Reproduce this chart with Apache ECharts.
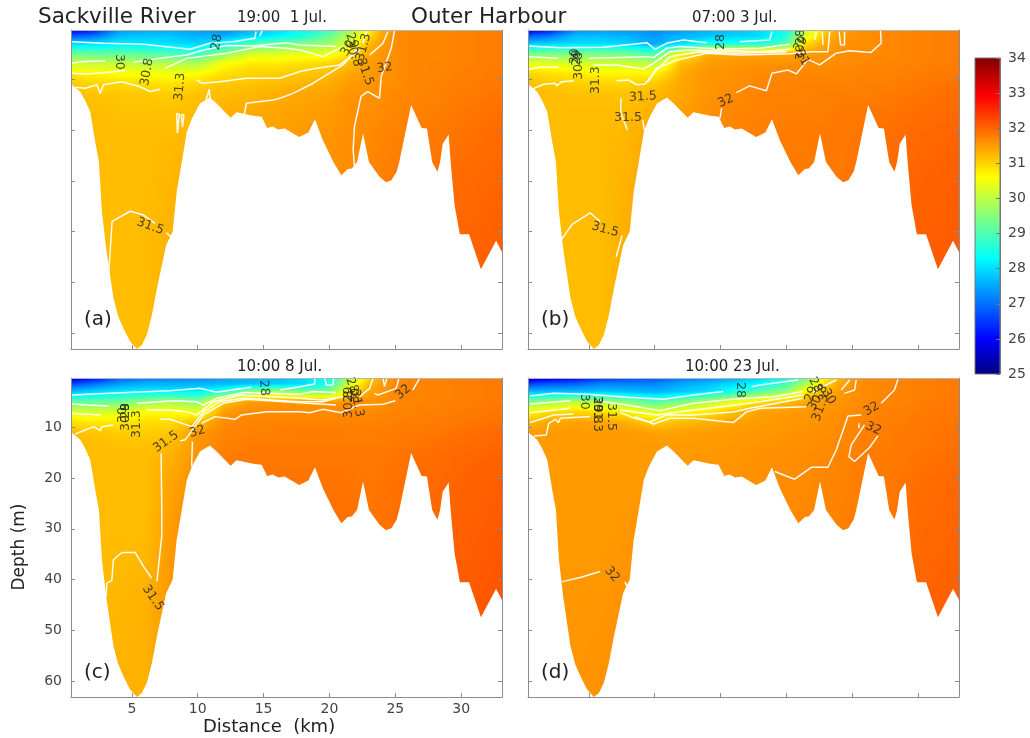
<!DOCTYPE html>
<html>
<head>
<meta charset="utf-8">
<title>Salinity sections</title>
<style>
  html, body { margin: 0; padding: 0; background: #fff; }
  #chart { width: 1030px; height: 738px; }
</style>
<script src="https://cdn.jsdelivr.net/npm/echarts@6/dist/echarts.min.js"></script>
</head>
<body>
<div id="chart"></div>
<script>
// axis ticks
var distanceTicks = [5, 10, 15, 20, 25, 30];
var depthTicks = [10, 20, 30, 40, 50, 60];
var salinityTicks = [25, 26, 27, 28, 29, 30, 31, 32, 33, 34];
var panelLetters = ['(a)', '(b)', '(c)', '(d)'];
var panelDates = ['19:00  1 Jul.', '07:00 3 Jul.', '10:00 8 Jul.', '10:00 23 Jul.'];

// bottom profile, km and metres
var bottomKm = [0.38, 0.53, 1.08, 1.46, 1.84, 2.22, 2.5, 2.73, 3.05, 3.6, 3.97, 4.36, 4.87, 5.38, 5.76, 6.14, 6.52, 6.9, 7.6, 8.1, 8.4, 8.79, 9.17, 9.55, 10.17, 10.93, 11.44, 11.9, 12.5, 12.95, 14.2, 14.85, 15.27, 15.7, 16.1, 16.6, 17.7, 18.4, 18.9, 19.5, 20.3, 20.9, 21.4, 21.7, 22.1, 22.55, 23, 23.8, 24.3, 24.7, 25.1, 25.3, 26.2, 27, 27.4, 27.8, 28.2, 28.4, 28.6, 29.05, 29.2, 29.5, 29.9, 30.6, 31.5, 32.65, 33.1];
var bottomDepth = [10.8, 11.3, 12.5, 14.2, 16.4, 22.3, 26.3, 36.1, 43.3, 53, 56.7, 59, 61.6, 63.1, 62.3, 60.3, 56.4, 51.2, 42.7, 40, 32.2, 26.3, 20.4, 17.8, 14.8, 13.6, 14.8, 16, 17.6, 16.5, 17.2, 17.4, 19.6, 19.3, 19.9, 19.7, 21.4, 20.5, 17.9, 22, 26.3, 28.9, 27.7, 27.6, 26.3, 20.7, 26.3, 29.2, 30.3, 29.9, 28.2, 26.3, 15.1, 19.6, 19.7, 26.3, 28.2, 26.3, 22.7, 20.9, 26.3, 34.8, 40.5, 40.5, 47.4, 41.8, 44];

// salinity read at these stations and depths
var stationKm = [0.3, 2, 4, 6, 8, 10, 12, 14, 16, 18, 20, 21.5, 23, 24, 25, 26, 28, 30, 33.2];
var levelDepth = [0, 1.5, 3, 5, 7, 9, 11, 13, 16, 20, 30, 45, 64];

var salinityA = [
  [25.6, 25.9, 27.3, 27.4, 27.4, 27.4, 27.1, 27.6, 27.9, 28.2, 28.8, 29.6, 30.6, 31.3, 31.62, 31.68, 31.68, 31.72, 31.78],
  [26.8, 27.0, 27.7, 27.8, 27.8, 27.6, 27.6, 27.9, 28.2, 28.6, 29.2, 30.0, 30.9, 31.4, 31.62, 31.68, 31.68, 31.72, 31.78],
  [27.9, 28.0, 28.1, 28.1, 28.0, 27.9, 28.3, 29.0, 29.2, 29.4, 29.7, 30.3, 31.2, 31.5, 31.62, 31.68, 31.68, 31.72, 31.78],
  [29.3, 29.2, 29.2, 29.1, 29.0, 28.9, 29.6, 30.2, 30.3, 30.4, 30.4, 30.8, 31.4, 31.55, 31.62, 31.68, 31.68, 31.72, 31.78],
  [30.2, 30.1, 30.1, 30.0, 30.0, 29.9, 30.6, 30.8, 30.8, 30.9, 31.0, 31.2, 31.5, 31.55, 31.62, 31.68, 31.7, 31.72, 31.78],
  [30.8, 30.7, 30.6, 30.6, 30.5, 30.6, 30.9, 31.0, 31.05, 31.1, 31.2, 31.4, 31.5, 31.58, 31.62, 31.68, 31.7, 31.75, 31.8],
  [31.1, 31.0, 30.95, 30.9, 30.85, 31.0, 31.1, 31.15, 31.2, 31.3, 31.35, 31.5, 31.55, 31.58, 31.62, 31.68, 31.72, 31.75, 31.82],
  [31.2, 31.15, 31.1, 31.1, 31.05, 31.15, 31.2, 31.25, 31.35, 31.4, 31.45, 31.55, 31.6, 31.62, 31.68, 31.7, 31.72, 31.78, 31.85],
  [31.2, 31.2, 31.15, 31.15, 31.15, 31.2, 31.3, 31.35, 31.4, 31.45, 31.5, 31.6, 31.6, 31.65, 31.68, 31.72, 31.75, 31.82, 31.9],
  [31.2, 31.2, 31.2, 31.2, 31.2, 31.25, 31.35, 31.4, 31.45, 31.5, 31.55, 31.6, 31.65, 31.7, 31.72, 31.75, 31.8, 31.85, 31.95],
  [31.2, 31.2, 31.2, 31.2, 31.25, 31.4, 31.4, 31.45, 31.5, 31.55, 31.6, 31.65, 31.7, 31.75, 31.8, 31.82, 31.85, 31.95, 32.0],
  [31.2, 31.2, 31.2, 31.2, 31.3, 31.4, 31.45, 31.5, 31.55, 31.6, 31.65, 31.7, 31.75, 31.8, 31.82, 31.85, 31.9, 32.0, 32.05],
  [31.2, 31.2, 31.2, 31.2, 31.3, 31.4, 31.45, 31.5, 31.55, 31.6, 31.65, 31.7, 31.75, 31.8, 31.82, 31.85, 31.9, 32.0, 32.05]
];
var salinityB = [
  [25.5, 25.9, 27.2, 27.3, 27.3, 27.2, 27.4, 27.5, 27.7, 27.9, 28.4, 30.0, 31.0, 31.4, 31.55, 31.62, 31.68, 31.72, 31.78],
  [26.8, 27.1, 27.7, 27.7, 27.6, 27.4, 27.6, 27.8, 27.9, 28.0, 28.6, 30.3, 31.2, 31.5, 31.55, 31.62, 31.68, 31.72, 31.78],
  [27.8, 27.9, 28.0, 28.0, 27.9, 27.5, 28.0, 28.4, 28.5, 28.5, 29.0, 30.9, 31.4, 31.55, 31.6, 31.62, 31.68, 31.72, 31.78],
  [29.4, 29.4, 29.4, 29.4, 29.3, 29.0, 30.6, 31.3, 31.4, 31.4, 31.4, 31.5, 31.55, 31.6, 31.62, 31.65, 31.68, 31.72, 31.78],
  [30.5, 30.4, 30.3, 30.2, 30.2, 30.0, 31.2, 31.5, 31.55, 31.6, 31.6, 31.62, 31.62, 31.65, 31.65, 31.68, 31.7, 31.72, 31.8],
  [31.0, 30.9, 30.8, 30.7, 30.7, 30.7, 31.35, 31.55, 31.6, 31.65, 31.68, 31.68, 31.68, 31.7, 31.7, 31.72, 31.72, 31.78, 31.82],
  [31.2, 31.1, 31.05, 31.0, 31.0, 31.1, 31.4, 31.55, 31.6, 31.7, 31.7, 31.72, 31.72, 31.72, 31.72, 31.75, 31.75, 31.8, 31.88],
  [31.2, 31.2, 31.15, 31.15, 31.15, 31.25, 31.4, 31.55, 31.65, 31.72, 31.72, 31.72, 31.75, 31.75, 31.75, 31.75, 31.8, 31.85, 31.92],
  [31.2, 31.2, 31.2, 31.2, 31.2, 31.3, 31.45, 31.6, 31.7, 31.72, 31.75, 31.75, 31.75, 31.8, 31.8, 31.82, 31.85, 31.9, 31.95],
  [31.2, 31.2, 31.2, 31.2, 31.25, 31.4, 31.5, 31.6, 31.7, 31.75, 31.78, 31.78, 31.8, 31.8, 31.82, 31.85, 31.9, 31.95, 32.0],
  [31.2, 31.2, 31.2, 31.2, 31.3, 31.45, 31.55, 31.65, 31.7, 31.78, 31.8, 31.8, 31.8, 31.82, 31.85, 31.9, 31.95, 32.0, 32.05],
  [31.2, 31.2, 31.2, 31.2, 31.35, 31.5, 31.6, 31.65, 31.75, 31.8, 31.82, 31.85, 31.85, 31.88, 31.9, 31.95, 32.0, 32.05, 32.1],
  [31.2, 31.2, 31.2, 31.2, 31.35, 31.5, 31.6, 31.65, 31.75, 31.8, 31.82, 31.85, 31.85, 31.88, 31.9, 31.95, 32.0, 32.05, 32.1]
];
var salinityC = [
  [25.4, 25.8, 26.7, 27.0, 27.1, 27.2, 27.4, 27.5, 27.6, 27.9, 28.3, 29.8, 30.9, 31.4, 31.65, 31.7, 31.72, 31.75, 31.8],
  [26.6, 27.0, 27.4, 27.6, 27.6, 27.6, 27.7, 27.8, 27.9, 28.0, 28.6, 30.2, 31.2, 31.5, 31.65, 31.7, 31.72, 31.75, 31.8],
  [27.7, 27.9, 28.1, 28.2, 28.2, 28.2, 28.6, 29.6, 29.8, 29.4, 29.4, 30.8, 31.4, 31.55, 31.65, 31.7, 31.72, 31.75, 31.8],
  [29.2, 29.2, 29.3, 29.6, 29.8, 29.5, 31.1, 31.5, 31.55, 31.55, 31.55, 31.55, 31.6, 31.6, 31.65, 31.7, 31.72, 31.75, 31.8],
  [30.3, 30.2, 30.3, 30.6, 30.6, 30.4, 31.5, 31.65, 31.65, 31.65, 31.65, 31.65, 31.65, 31.68, 31.72, 31.72, 31.75, 31.78, 31.85],
  [30.9, 30.8, 30.8, 30.9, 30.9, 31.2, 31.65, 31.7, 31.72, 31.72, 31.72, 31.72, 31.72, 31.72, 31.75, 31.75, 31.78, 31.82, 31.9],
  [31.2, 31.1, 31.05, 31.05, 31.1, 31.5, 31.7, 31.72, 31.75, 31.78, 31.78, 31.75, 31.75, 31.78, 31.78, 31.78, 31.82, 31.88, 31.95],
  [31.2, 31.2, 31.15, 31.15, 31.2, 31.55, 31.72, 31.78, 31.78, 31.78, 31.78, 31.78, 31.78, 31.78, 31.8, 31.82, 31.88, 31.92, 31.98],
  [31.2, 31.2, 31.2, 31.2, 31.3, 31.6, 31.78, 31.8, 31.82, 31.82, 31.82, 31.82, 31.8, 31.82, 31.85, 31.88, 31.92, 31.98, 32.02],
  [31.2, 31.2, 31.2, 31.2, 31.4, 31.65, 31.8, 31.82, 31.85, 31.85, 31.85, 31.85, 31.82, 31.85, 31.88, 31.9, 31.95, 32.0, 32.05],
  [31.2, 31.2, 31.2, 31.2, 31.5, 31.7, 31.82, 31.85, 31.88, 31.9, 31.9, 31.9, 31.85, 31.88, 31.9, 31.92, 31.98, 32.03, 32.1],
  [31.25, 31.25, 31.25, 31.3, 31.55, 31.75, 31.85, 31.88, 31.9, 31.92, 31.92, 31.9, 31.85, 31.9, 31.9, 31.95, 32.0, 32.08, 32.15],
  [31.3, 31.3, 31.3, 31.3, 31.55, 31.75, 31.85, 31.88, 31.9, 31.92, 31.92, 31.9, 31.85, 31.9, 31.9, 31.95, 32.0, 32.08, 32.15]
];
var salinityD = [
  [25.2, 25.5, 25.8, 26.3, 26.5, 26.7, 27.0, 27.1, 27.4, 27.8, 28.2, 29.2, 30.6, 31.2, 31.5, 31.65, 31.7, 31.75, 31.8],
  [26.6, 26.8, 26.9, 27.2, 27.2, 27.2, 27.5, 27.7, 28.0, 28.3, 28.9, 29.9, 31.0, 31.4, 31.55, 31.65, 31.7, 31.75, 31.8],
  [27.7, 27.7, 27.7, 27.8, 27.7, 27.6, 27.8, 28.0, 28.5, 29.1, 29.6, 30.7, 31.3, 31.5, 31.6, 31.65, 31.7, 31.75, 31.8],
  [29.4, 29.7, 30.0, 29.9, 29.5, 29.0, 29.4, 29.9, 30.4, 30.9, 31.2, 31.4, 31.5, 31.55, 31.6, 31.65, 31.7, 31.75, 31.82],
  [30.6, 30.9, 31.0, 30.9, 30.7, 30.3, 30.6, 30.8, 31.2, 31.45, 31.5, 31.55, 31.55, 31.6, 31.65, 31.7, 31.75, 31.78, 31.85],
  [31.2, 31.4, 31.45, 31.4, 31.3, 31.0, 31.2, 31.3, 31.45, 31.5, 31.55, 31.55, 31.6, 31.65, 31.7, 31.7, 31.75, 31.8, 31.85],
  [31.5, 31.5, 31.5, 31.5, 31.5, 31.45, 31.45, 31.5, 31.5, 31.55, 31.55, 31.6, 31.6, 31.65, 31.7, 31.75, 31.78, 31.82, 31.88],
  [31.5, 31.5, 31.5, 31.5, 31.5, 31.5, 31.5, 31.5, 31.55, 31.55, 31.6, 31.6, 31.65, 31.7, 31.7, 31.75, 31.78, 31.82, 31.88],
  [31.5, 31.5, 31.5, 31.5, 31.5, 31.5, 31.5, 31.55, 31.55, 31.6, 31.6, 31.65, 31.65, 31.7, 31.75, 31.78, 31.8, 31.85, 31.92],
  [31.5, 31.5, 31.5, 31.5, 31.5, 31.5, 31.55, 31.55, 31.6, 31.6, 31.65, 31.65, 31.7, 31.7, 31.75, 31.78, 31.8, 31.9, 31.97],
  [31.5, 31.5, 31.5, 31.5, 31.55, 31.6, 31.6, 31.6, 31.6, 31.65, 31.65, 31.7, 31.7, 31.75, 31.78, 31.8, 31.85, 31.95, 32.0],
  [31.5, 31.55, 31.55, 31.55, 31.6, 31.6, 31.6, 31.65, 31.65, 31.7, 31.7, 31.75, 31.75, 31.78, 31.8, 31.85, 31.9, 32.0, 32.05],
  [31.55, 31.55, 31.55, 31.6, 31.6, 31.6, 31.6, 31.65, 31.65, 31.7, 31.7, 31.75, 31.75, 31.78, 31.8, 31.85, 31.9, 32.0, 32.05]
];

// white contour lines, [km, m]
var contoursA = [
  [[0.45,2.63],[2.85,2.95],[5.88,3.15],[9.42,4.13],[10.93,2.95],[12.7,2.63],[14.34,1.97],[14.42,0.66]],
  [[14.72,1.5],[14.9,0.46]],
  [[0.45,6.88],[1.34,6.55],[2.98,6.42]],
  [[5.13,6.69],[7.15,5.9],[9.17,5.25],[10.43,4.26],[12.2,3.4],[14.2,3.48],[16.74,2.82],[17.75,3.28],[20.5,3.6]],
  [[7.53,7.86],[9.17,5.9],[10.18,5.57],[12.2,4.92],[14.72,3.6],[16.74,3.94],[17.75,4.26],[19.5,5.57],[21.03,3.6]],
  [[0.45,8.85],[1.59,8.98],[2.85,8.72],[4.49,8.32]],
  [[0.71,11.6],[1.46,11.8],[2.35,11.1],[2.6,12.8],[2.85,11.1],[4.24,10.5],[5.63,11.5],[6.39,12.45],[7.15,12]],
  [[9.92,10.16],[10.3,10.8],[11.69,10.5],[13.7,9.83],[16.23,9.83],[17.75,8.5],[19,7.87],[20.78,7.2],[22.3,4.26]],
  [[13.53,17],[13.7,14.74],[15.73,14.1],[16.23,13.76],[17.24,12.8],[18.76,10.8],[21.03,7.2],[22.3,3.6]],
  [[22.8,0.66],[22.54,2.95]],
  [[24.44,0.66],[24.06,2.95],[23.05,5.25]],
  [[24.94,0.46],[24.69,3.94],[23.93,9.5],[23.8,13.76],[22.9,12.45],[22.4,13.4],[21.9,19.3],[21.8,23.9],[21.9,27.2]],
  [[8.4,16.7],[8.46,20.6],[8.6,17],[8.4,16.7]],
  [[8.75,17],[8.85,19.4],[8.95,17],[8.75,17]],
  [[10.63,14.1],[10.88,12],[10.93,13.8]],
  [[3.2,50],[3.5,38],[4.87,36],[5.86,36.7],[6.76,38.4]],
  [[7.6,40.2],[8.05,41.2]]
];
var contoursB = [
  [[0.43,3.47],[2.83,3.8],[6.11,3.73],[9.4,2.82],[10.03,4.13],[10.9,2.95],[12.17,2.3],[13.94,2.82]],
  [[16.47,2.62],[18.73,2.3],[18.9,0.66]],
  [[0.43,5.57],[2.7,5.9]],
  [[4.98,5.9],[9.4,5.57],[9.9,5.76],[10.9,3.93],[11.9,3.6],[14.95,4.06],[18,3.93],[20.25,3.15]],
  [[0.43,8.06],[1.3,7.66],[2.7,7.66]],
  [[5.36,7.2],[7.12,7.2],[9.14,8],[9.9,6.88],[11.16,4.6],[12.43,4.26],[18,4.6],[20.25,4.13]],
  [[0.68,12],[1.57,11],[2.45,10.8],[2.58,11.3],[2.96,10.5],[3.84,10.3]],
  [[7.12,10.3],[8,10.15],[8.64,11.1],[9.27,10.94],[9.9,8.84],[11.16,5.57],[13.44,4.6],[16.2,4.9],[20,4.6]],
  [[9.52,10.5],[10.15,7.86],[11.67,6.22],[13.94,4.9],[16.47,5.24],[20.25,5],[21.9,4.6],[23.15,4.6],[23.28,0.66]],
  [[22.27,0.66],[22.14,2.3]],
  [[22.72,0.66],[22.77,3.28]],
  [[24,0.66],[24.11,3.28],[24.41,3.28],[24.41,0.66]],
  [[14.95,17.7],[15.08,15.7]],
  [[16.2,12.64],[17.2,11.33],[18.48,12.3],[18.9,8.84],[20.12,8.2],[20.75,8.97],[21.64,6.1],[22.52,7.2],[23.78,4.9],[24.79,4.4],[26.4,4.78],[27.19,2.95],[27.14,0.46]],
  [[7.43,13.75],[7.43,16.7],[7.93,20]],
  [[9.1,18],[9.2,20]],
  [[2.6,50.4],[2.9,41.6],[3.73,38.6],[5.1,36.3],[5.85,38]],
  [[7.52,40.8],[7.07,45]]
];
var contoursC = [
  [[0.45,3.68],[3.36,3.35],[7.9,2.82],[10.18,2.37],[11.44,3.15],[12.95,2.56],[14.09,2.17]],
  [[16.24,2.7],[17.75,2.04],[18.88,1.5],[18.88,0.4]],
  [[19.64,0.4],[19.77,1.7],[20.27,1.7],[20.32,0.4]],
  [[0.45,5.44],[1.59,5.64],[3.23,5.84]],
  [[5.38,5.3],[8.16,4.8],[9.92,5],[10.43,5.64],[11.44,4.33],[13.46,3.2],[17.75,3.55],[18.75,3],[20.5,3.2]],
  [[0.45,7.28],[2.6,7.6]],
  [[6.13,6.62],[7.9,6.62],[9.17,6.95],[9.92,7.6],[11.19,5],[13.2,3.68],[17.75,4.33],[19.5,4.66],[21,4]],
  [[0.71,11.34],[2.1,9.9],[2.6,10.7],[2.73,9.9],[3.6,9.57]],
  [[7.15,8.46],[7.9,8.46],[9.55,9.9],[10.43,7],[11.69,5],[13.46,4.33],[17.75,5],[19.5,5],[20.5,4.33]],
  [[8.66,12.7],[9.04,12.5],[10.43,7.6],[11.94,5.3],[13.7,4.53],[17.75,5.18],[20.5,5.64]],
  [[9.54,17.76],[9.6,12.84]],
  [[10.3,9.24],[11.31,7.93],[12.83,8.46],[13.33,7.6],[15.23,6.95],[17.75,6.95],[18.5,7.15],[19.5,6.5],[20.9,7.15],[22.29,5.64],[24.06,5.5],[25,4.8]],
  [[26.33,2.7],[26.84,0.4]],
  [[7.22,15.14],[7.27,26.27],[7.27,31.5],[6.9,40.35]],
  [[3.05,43.3],[3.1,40.7],[3.48,40.2],[3.6,36.1],[4.24,34.66],[5.25,34.66],[5.88,37.4],[6.5,39.7]],
  [[23.43,3.35],[23.68,3.68],[25.07,2.37],[25.27,0.4]],
  [[24.06,0.4],[24.18,2],[24.36,0.4]],
  [[23.3,0.4],[23.05,2.37],[22.29,4]]
];
var contoursD = [
  [[0.56,3.87],[2.33,3.35],[4.85,3.55],[7.88,4.13],[10.66,4.53],[12.93,3.68],[15.2,3]],
  [[17.35,2.04],[17.98,1.7],[20.88,0.73]],
  [[0.56,5.44],[3.59,4.79]],
  [[5.6,4.79],[7.88,5.64],[10.4,6.75],[12.93,5.3],[15.96,4.53],[18.99,4],[21.26,3]],
  [[0.56,7.15],[3.59,6.3]],
  [[7.38,6.62],[10.15,7.6],[12.93,6.62],[16.2,5.64],[18,5],[21.26,3.68]],
  [[0.56,9.1],[1.57,8.26],[2.33,7.6],[3.84,7.4]],
  [[7.38,7.15],[8.5,8.26],[9.65,9],[10.9,7.6],[12.93,7.6],[15.96,7],[17.22,6.3],[21.26,4.33]],
  [[0.81,11.73],[1.77,11.53],[1.95,9.24],[2.45,8.46],[2.7,9.1],[2.83,8.26],[5.1,7.93]],
  [[8.5,7.93],[9.9,9.37],[11.16,8.26],[12.93,8.26],[15.96,9.1],[16.97,7],[18,6.3],[21.5,5.97]],
  [[23.78,0.73],[23,1.7],[22,3.2]],
  [[24.8,0.73],[24.16,2.7]],
  [[25.3,0.73],[25.17,2.7],[24.4,3.35]],
  [[19.11,18.74],[20.63,20.24],[21.89,17.9],[23.15,17.9],[23.78,14.5],[24.67,7.8],[25.68,7.6]],
  [[27.19,5.3],[28.2,2.7],[28.46,0.6]],
  [[25.93,9.57],[24.92,13.5],[24.74,15.8],[25.17,16.77],[26.31,14],[26.94,11.73]],
  [[25.5,9.24],[25.5,10.2]],
  [[2.98,40.4],[4.34,39.6],[5.86,38.4]],
  [[7.75,40.4],[7.98,42]]
];

// contour labels: km, m, text, rotation
var labelsA = [
  [11.46,2.7,'28',80],[4.04,6.6,'30',-90],[6.16,8.6,'30.8',80],[8.66,11.5,'31.3',85],[6.39,39,'31.5',-20],
  [24.2,7.8,'32',8],[21.7,2.4,'29',-70],[21.4,3.9,'30',60],[21.8,4.9,'30.8',-70],[22.6,3.7,'31.3',75],[22.7,8.6,'31.5',-70]
];
var labelsB = [
  [15.03,2.7,'28',90],[3.96,5.5,'30',90],[4.1,5.8,'29',90],[4.2,7.4,'30.8',90],[5.55,10.2,'31.3',90],
  [9.1,13.5,'31.5',3],[7.97,17.6,'31.5',0],[15.4,14.3,'32',25],[6.24,39.6,'31.5',-15],
  [21.1,1.7,'28',90],[21.1,3.1,'29',60],[21.1,4.7,'30',90],[21.2,5.8,'31',-60]
];
var labelsC = [
  [15.03,2.3,'28',-85],[4.34,7.6,'30',90],[4.5,6.8,'29',90],[4.5,8,'30.8',90],[5.4,9.4,'31.3',90],
  [7.6,12.9,'31.5',35],[9.97,10.9,'32',15],[25.6,3.1,'32',40],[6.6,43.6,'31.5',-55],
  [21.7,1.8,'28',-70],[21.5,3.6,'29',90],[22,3.8,'30',90],[21.5,5.5,'30.8',90],[22.1,5.3,'31.3',-80]
];
var labelsD = [
  [16.5,2.7,'28',-90],[4.65,5,'30',-90],[5.6,5.6,'29',-90],[5.6,6.6,'30.8',-90],[5.65,8.2,'31.3',-90],[6.7,8,'31.5',-90],
  [26.47,6.4,'32',30],[26.6,10.3,'32',-25],[6.76,39,'32',-50],
  [22.2,1.7,'28',-60],[21.9,3.5,'29',70],[22.4,4.2,'30.8',60],[23.2,4,'30',-60],[22.6,6.2,'31.3',70]
];

// colour scale, value then colour
var scaleValues = [25, 26, 28.3, 29.45, 30.6, 32.9, 34];
var scaleColors = ['#00007f', '#0000ff', '#00ffff', '#80ff80', '#ffff00', '#ff0000', '#7f0000'];

function salColor(v) {
  if (v <= scaleValues[0]) return scaleColors[0];
  for (var i = 1; i < scaleValues.length; i++) {
    if (v <= scaleValues[i]) {
      var t = (v - scaleValues[i - 1]) / (scaleValues[i] - scaleValues[i - 1]);
      return echarts.color.lerp(t, [scaleColors[i - 1], scaleColors[i]]);
    }
  }
  return scaleColors[scaleColors.length - 1];
}

function findSlot(list, v) {
  for (var i = 0; i < list.length - 2; i++) {
    if (v < list[i + 1]) return i;
  }
  return list.length - 2;
}

// value at a station pair and depth, used to shade the field between read points
function fieldAt(table, km, depth) {
  var c = findSlot(stationKm, km);
  var r = findSlot(levelDepth, depth);
  var tx = (km - stationKm[c]) / (stationKm[c + 1] - stationKm[c]);
  var ty = (depth - levelDepth[r]) / (levelDepth[r + 1] - levelDepth[r]);
  var top = table[r][c] * (1 - tx) + table[r][c + 1] * tx;
  var low = table[r + 1][c] * (1 - tx) + table[r + 1][c + 1] * tx;
  return top * (1 - ty) + low * ty;
}

var kmMin = 0.38, kmMax = 33.1, depthMin = 0.33, depthMax = 63.1;

function fieldStops(table, km) {
  var stops = [];
  var n = 90;
  for (var i = 0; i <= n; i++) {
    // more stops near the surface where the colour changes quickly
    var f = i / n;
    var d = depthMin + (depthMax - depthMin) * f * f;
    stops.push({
      offset: (d - depthMin) / (depthMax - depthMin),
      color: salColor(fieldAt(table, km, d))
    });
  }
  return stops;
}

function fieldSeries(table, idx) {
  var cols = [];
  for (var i = 0; i < stationKm.length - 1; i++) {
    cols.push([Math.max(stationKm[i], kmMin), Math.min(stationKm[i + 1], kmMax)]);
  }
  return {
    type: 'custom',
    silent: true,
    xAxisIndex: idx * 2,
    yAxisIndex: idx * 2,
    z: 2,
    clip: true,
    encode: { x: [0, 1] },
    data: cols,
    renderItem: function (params, api) {
      var a = api.value(0), b = api.value(1);
      var x0 = Math.round(api.coord([a, depthMin])[0]);
      var x1 = Math.round(api.coord([b, depthMin])[0]);
      var yTop = api.coord([a, depthMin])[1];
      var yLow = api.coord([a, depthMax])[1];
      var kids = [];
      var step = 3;
      for (var x = x0; x < x1; x += step) {
        var f = (x + step / 2 - x0) / (x1 - x0);
        kids.push({
          type: 'rect',
          shape: { x: x, y: yTop, width: step + 0.6, height: yLow - yTop },
          style: { fill: new echarts.graphic.LinearGradient(0, 0, 0, 1, fieldStops(table, a + (b - a) * f)) }
        });
      }
      return { type: 'group', children: kids };
    }
  };
}

function landSeries(idx) {
  return {
    type: 'custom',
    silent: true,
    xAxisIndex: idx * 2,
    yAxisIndex: idx * 2,
    z: 3,
    clip: true,
    data: [[kmMin, depthMax]],
    renderItem: function (params, api) {
      var pts = [];
      for (var i = 0; i < bottomKm.length; i++) {
        pts.push(api.coord([bottomKm[i], bottomDepth[i]]));
      }
      pts.push(api.coord([kmMax, depthMax]));
      pts.push(api.coord([kmMin, depthMax]));
      return { type: 'polygon', shape: { points: pts }, style: { fill: '#fff' } };
    }
  };
}

var fontName = 'DejaVu Sans';
var axisGray = '#8c8c8c';
var grids = [
  { left: 71, top: 30, width: 431, height: 319, outerBoundsMode: 'none' },
  { left: 528, top: 30, width: 431, height: 319, outerBoundsMode: 'none' },
  { left: 71, top: 378, width: 431, height: 319, outerBoundsMode: 'none' },
  { left: 528, top: 378, width: 431, height: 319, outerBoundsMode: 'none' },
  { left: 975, top: 58, width: 25, height: 316, outerBoundsMode: 'none' }
];
var xAxes = [], yAxes = [], series = [];
var tables = [salinityA, salinityB, salinityC, salinityD];
var contours = [contoursA, contoursB, contoursC, contoursD];
var labels = [labelsA, labelsB, labelsC, labelsD];

for (var p = 0; p < 4; p++) {
  var isC = p === 2;
  xAxes.push({
    type: 'value', gridIndex: p, min: kmMin, max: kmMax, position: 'bottom', z: 6,
    splitLine: { show: false },
    axisLine: { onZero: false, lineStyle: { color: axisGray, width: 1 } },
    axisTick: { inside: true, length: 4, customValues: distanceTicks, lineStyle: { color: axisGray } },
    axisLabel: { show: isC, customValues: distanceTicks, margin: 5, fontFamily: fontName, fontSize: 14, color: '#444' }
  });
  xAxes.push({
    type: 'value', gridIndex: p, min: kmMin, max: kmMax, position: 'top', z: 6,
    splitLine: { show: false },
    axisLine: { onZero: false, lineStyle: { color: '#b5b5b5', width: 1 } },
    axisTick: { show: false }, axisLabel: { show: false }
  });
  yAxes.push({
    type: 'value', gridIndex: p, min: depthMin, max: depthMax, inverse: true, position: 'left', z: 6,
    splitLine: { show: false },
    axisLine: { onZero: false, lineStyle: { color: axisGray, width: 1 } },
    axisTick: { inside: true, length: 4, customValues: depthTicks, lineStyle: { color: axisGray } },
    axisLabel: { show: isC, customValues: depthTicks, margin: 9, fontFamily: fontName, fontSize: 14, color: '#444' }
  });
  yAxes.push({
    type: 'value', gridIndex: p, min: depthMin, max: depthMax, inverse: true, position: 'right', z: 6,
    splitLine: { show: false },
    axisLine: { onZero: false, lineStyle: { color: axisGray, width: 1 } },
    axisTick: { inside: true, length: 4, customValues: depthTicks, lineStyle: { color: axisGray } },
    axisLabel: { show: false }
  });

  series.push(fieldSeries(tables[p], p));
  series.push(landSeries(p));

  contours[p].forEach(function (line) {
    series.push({
      type: 'line',
      silent: true,
      xAxisIndex: p * 2,
      yAxisIndex: p * 2,
      z: 4,
      showSymbol: false,
      clip: true,
      lineStyle: { color: '#fff', width: 1.5, opacity: 0.95 },
      data: line
    });
  });

  series.push({
    type: 'scatter',
    silent: true,
    xAxisIndex: p * 2,
    yAxisIndex: p * 2,
    z: 5,
    symbolSize: 0,
    data: labels[p].map(function (l) {
      return {
        value: [l[0], l[1]],
        label: {
          show: true, position: 'inside', formatter: l[2], rotate: l[3],
          fontFamily: fontName, fontSize: 12.5, color: '#222'
        }
      };
    })
  });
}

// colour bar
xAxes.push({ type: 'value', gridIndex: 4, min: 0, max: 1, z: 6, splitLine: { show: false },
  axisLine: { show: false }, axisTick: { show: false }, axisLabel: { show: false } });
yAxes.push({
  type: 'value', gridIndex: 4, min: 25, max: 34, interval: 1, position: 'right', z: 6,
  splitLine: { show: false },
  axisLine: { onZero: false, lineStyle: { color: '#777', width: 1 } },
  axisTick: { inside: true, length: 4, lineStyle: { color: '#777' } },
  axisLabel: { margin: 8, fontFamily: fontName, fontSize: 14, color: '#444', customValues: salinityTicks }
});
series.push({
  type: 'custom',
  silent: true,
  xAxisIndex: 8,
  yAxisIndex: 8,
  z: 2,
  data: [[0, 25, 1, 34]],
  encode: { x: [0, 2], y: [1, 3] },
  renderItem: function (params, api) {
    var low = api.coord([api.value(0), api.value(1)]);
    var top = api.coord([api.value(2), api.value(3)]);
    var stops = scaleValues.map(function (v, i) {
      return { offset: (34 - v) / 9, color: scaleColors[i] };
    }).reverse();
    return {
      type: 'rect',
      shape: { x: low[0], y: top[1], width: top[0] - low[0], height: low[1] - top[1] },
      style: {
        fill: new echarts.graphic.LinearGradient(0, 0, 0, 1, stops),
        stroke: '#777', lineWidth: 1
      }
    };
  }
});

function bigText(text, left, top, size, color) {
  return { text: text, left: left, top: top, padding: 0,
    textStyle: { fontFamily: fontName, fontSize: size, fontWeight: 'normal', color: color } };
}

var titles = [
  bigText('Sackville River', 38, 6, 21.5, '#222'),
  bigText('Outer Harbour', 411, 6, 21.5, '#222'),
  bigText(panelDates[0], 237, 11, 15, '#222'),
  bigText(panelDates[1], 692, 11, 15, '#222'),
  bigText(panelDates[2], 237, 360, 15, '#222'),
  bigText(panelDates[3], 685, 360, 15, '#222'),
  bigText(panelLetters[0], 84, 310, 20, '#222'),
  bigText(panelLetters[1], 541, 310, 20, '#222'),
  bigText(panelLetters[2], 84, 663, 20, '#222'),
  bigText(panelLetters[3], 541, 663, 20, '#222'),
  bigText('Distance  (km)', 203, 718, 18, '#222')
];

var myChart = echarts.init(document.getElementById('chart'));
myChart.setOption({
  backgroundColor: '#fff',
  animation: false,
  title: titles,
  graphic: [{
    type: 'text',
    x: 20,
    y: 547,
    rotation: Math.PI / 2,
    style: { text: 'Depth (m)', fontFamily: fontName, fontSize: 17, fill: '#222', align: 'center', verticalAlign: 'middle' }
  }],
  grid: grids,
  xAxis: xAxes,
  yAxis: yAxes,
  series: series
});
</script>
</body>
</html>
